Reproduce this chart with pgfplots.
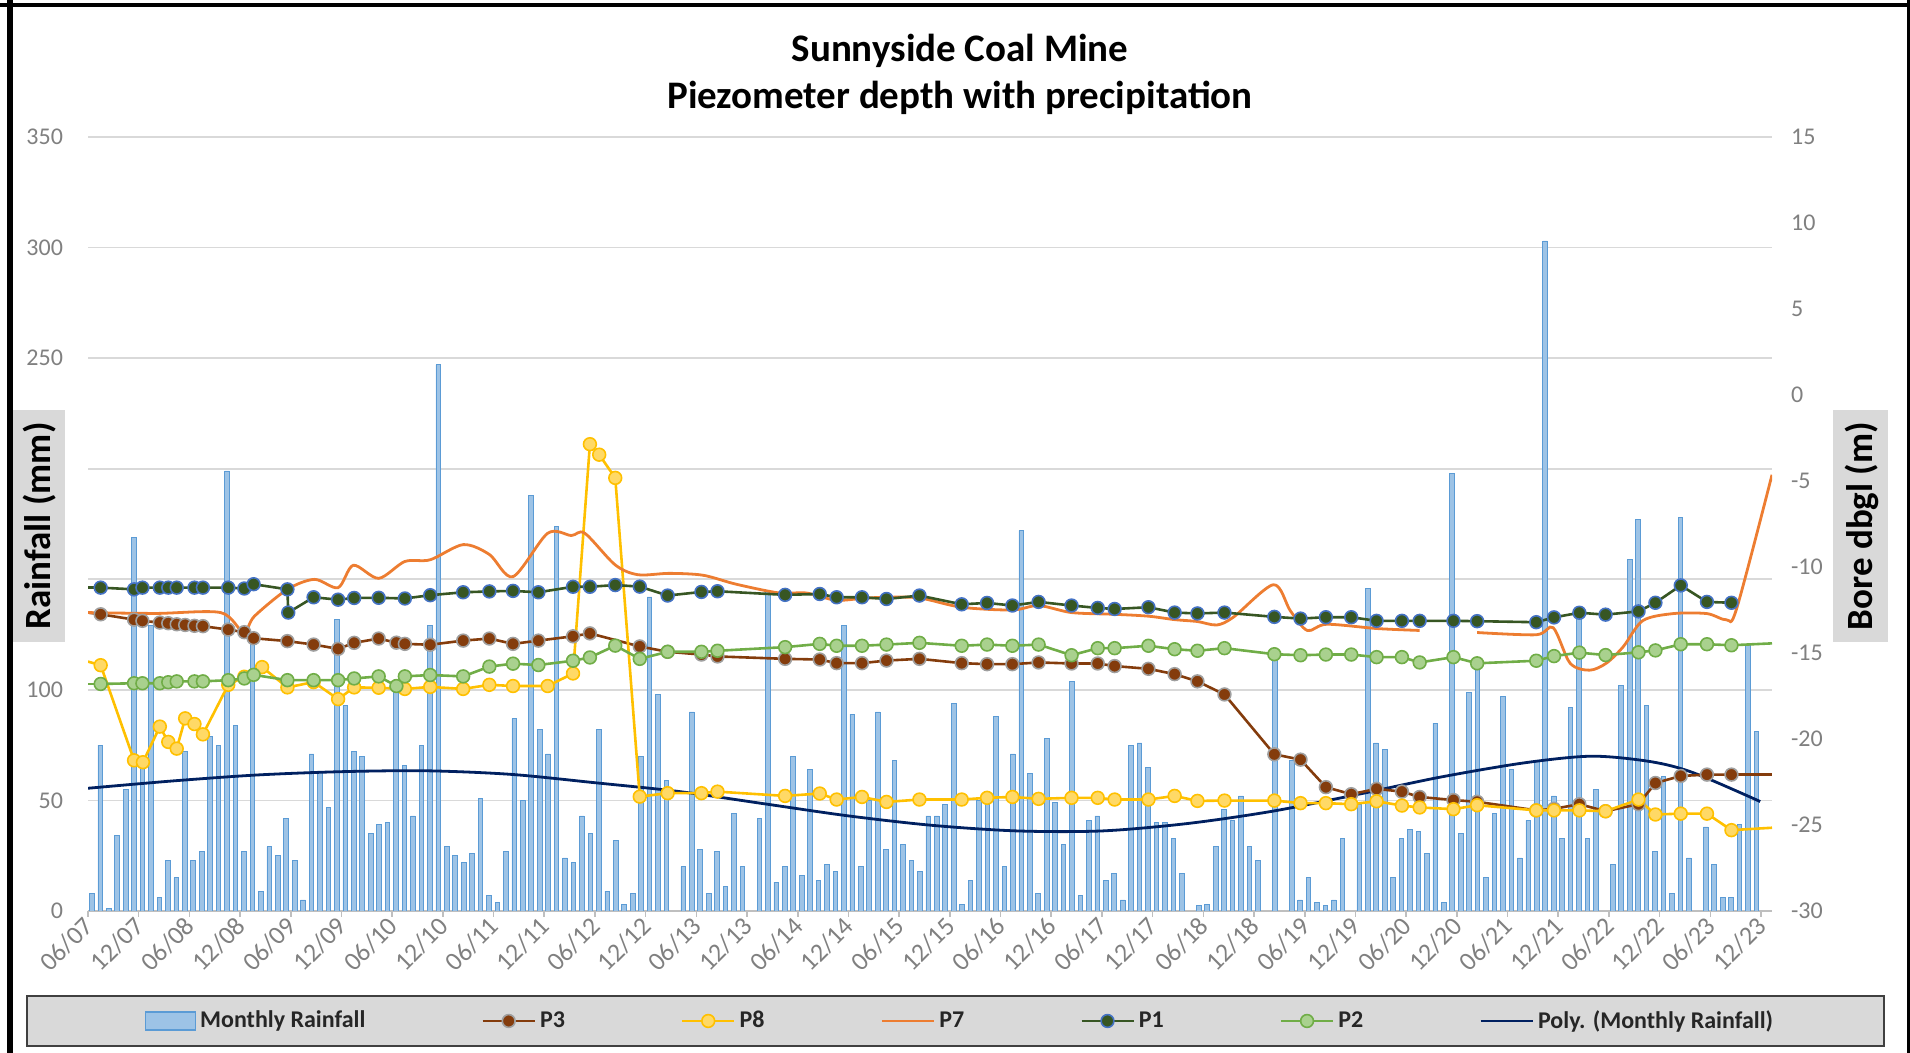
\documentclass[border=0pt]{standalone}
\usepackage{fontspec}
\setmainfont{Carlito}
\usepackage{pgfplots}
\usepackage{pgfplotstable}
\pgfplotsset{compat=1.18}

\definecolor{barfill}{HTML}{9DC3E6}
\definecolor{barline}{HTML}{5B9BD5}
\definecolor{pthree}{HTML}{843C0C}
\definecolor{peight}{HTML}{FFC000}
\definecolor{peightfill}{HTML}{FFD966}
\definecolor{pseven}{HTML}{ED7D31}
\definecolor{pone}{HTML}{375623}
\definecolor{ponedge}{HTML}{4472C4}
\definecolor{ptwo}{HTML}{70AD47}
\definecolor{ptwofill}{HTML}{A9D18E}
\definecolor{polyc}{HTML}{002060}
\definecolor{gridc}{HTML}{D9D9D9}
\definecolor{axisc}{HTML}{BFBFBF}
\definecolor{tickc}{HTML}{808080}
\definecolor{boxc}{HTML}{D9D9D9}

% monthly rainfall, m = months since 06/2007 (empty months left out)
\pgfplotstableread[row sep=\\]{
m mm\\
0 8\\ 1 75\\ 2 1\\ 3 34\\ 4 55\\ 5 169\\ 6 65\\ 7 129\\ 8 6\\ 9 23\\ 10 15\\ 11 72\\
12 23\\ 13 27\\ 14 79\\ 15 75\\ 16 199\\ 17 84\\ 18 27\\ 19 122\\ 20 9\\ 21 29\\ 22 25\\ 23 42\\
24 23\\ 25 5\\ 26 71\\ 27 63\\ 28 47\\ 29 132\\ 30 93\\ 31 72\\ 32 70\\ 33 35\\ 34 39\\ 35 40\\
36 100\\ 37 66\\ 38 43\\ 39 75\\ 40 129\\ 41 247\\ 42 29\\ 43 25\\ 44 22\\ 45 26\\ 46 51\\ 47 7\\
48 4\\ 49 27\\ 50 87\\ 51 50\\ 52 188\\ 53 82\\ 54 71\\ 55 174\\ 56 24\\ 57 22\\ 58 43\\ 59 35\\
60 82\\ 61 9\\ 62 32\\ 63 3\\ 64 8\\ 65 70\\ 66 142\\ 67 98\\ 68 59\\ 70 20\\ 71 90\\
72 28\\ 73 8\\ 74 27\\ 75 11\\ 76 44\\ 77 20\\ 79 42\\ 80 145\\ 81 13\\ 82 20\\ 83 70\\
84 16\\ 85 64\\ 86 14\\ 87 21\\ 88 18\\ 89 129\\ 90 89\\ 91 20\\ 92 50\\ 93 90\\ 94 28\\ 95 68\\
96 30\\ 97 23\\ 98 18\\ 99 43\\ 100 43\\ 101 48\\ 102 94\\ 103 3\\ 104 14\\ 105 50\\ 106 48\\ 107 88\\
108 20\\ 109 71\\ 110 172\\ 111 62\\ 112 8\\ 113 78\\ 114 49\\ 115 30\\ 116 104\\ 117 7\\ 118 41\\ 119 43\\
120 14\\ 121 17\\ 122 5\\ 123 75\\ 124 76\\ 125 65\\ 126 40\\ 127 40\\ 128 33\\ 129 17\\ 131 2.5\\
132 3\\ 133 29\\ 134 46\\ 135 41\\ 136 52\\ 137 29\\ 138 23\\ 140 115\\ 142 68\\ 143 5\\
144 15\\ 145 4\\ 146 2.5\\ 147 5\\ 148 33\\ 150 48\\ 151 146\\ 152 76\\ 153 73\\ 154 15\\ 155 33\\
156 37\\ 157 36\\ 158 26\\ 159 85\\ 160 4\\ 161 198\\ 162 35\\ 163 99\\ 164 112\\ 165 15\\ 166 44\\ 167 97\\
168 64\\ 169 24\\ 170 41\\ 171 68\\ 172 303\\ 173 52\\ 174 33\\ 175 92\\ 176 134\\ 177 33\\ 178 55\\
180 21\\ 181 102\\ 182 159\\ 183 177\\ 184 93\\ 185 27\\ 186 61\\ 187 8\\ 188 178\\ 189 24\\ 191 38\\
192 21\\ 193 6\\ 194 6\\ 195 39\\ 196 120\\ 197 81\\
}\rain

\pgfplotsset{
  pthreestyle/.style={color=pthree, line width=1.3pt, mark=*, mark size=3.2pt,
    mark options={fill=pthree, draw=gray!75, line width=0.8pt}},
  peightstyle/.style={color=peight, line width=1.3pt, mark=*, mark size=3.2pt,
    mark options={fill=peightfill, draw=peight, line width=0.8pt}},
  ponestyle/.style={color=pone, line width=1.3pt, mark=*, mark size=3.2pt,
    mark options={fill=pone, draw=ponedge, line width=0.8pt}},
  ptwostyle/.style={color=ptwo, line width=1.3pt, mark=*, mark size=3.2pt,
    mark options={fill=ptwofill, draw=ptwo, line width=0.8pt}},
  psevenstyle/.style={color=pseven, line width=1.4pt, smooth, no markers},
}

\begin{document}
\begin{tikzpicture}
\path[use as bounding box] (0,0) rectangle (955pt,526.5pt);

% frame and legend panel
\draw[black, line width=3pt] (5pt,0) -- (5pt,526.5pt);
\draw[black, line width=2.2pt] (0,524pt) -- (955pt,524pt);
\draw[black, line width=1.5pt] (954pt,0) -- (954pt,526.5pt);
\draw[fill=boxc, draw=black!75, line width=1.2pt] (13.5pt,3.5pt) rectangle (942pt,28.5pt);

\node[font=\bfseries\fontsize{19.5}{23}\selectfont] at (480pt,501pt) {Sunnyside Coal Mine};
\node[font=\bfseries\fontsize{19.5}{23}\selectfont] at (480pt,477.5pt) {Piezometer depth with precipitation};

\begin{axis}[
  at={(44pt,71pt)}, anchor=south west,
  scale only axis, width=842pt, height=387pt,
  xmin=0, xmax=199.3, ymin=0, ymax=350,
  axis x line*=bottom, axis y line*=left,
  x axis line style={draw=axisc, line width=0.8pt},
  y axis line style={draw=none},
  xtick={0,6,...,198},
  xticklabels={06/07,12/07,06/08,12/08,06/09,12/09,06/10,12/10,06/11,12/11,06/12,12/12,
    06/13,12/13,06/14,12/14,06/15,12/15,06/16,12/16,06/17,12/17,06/18,12/18,
    06/19,12/19,06/20,12/20,06/21,12/21,06/22,12/22,06/23,12/23},
  xtick style={draw=axisc, line width=0.8pt},
  tick align=outside, major tick length=3pt,
  ytick={0,50,...,350},
  yticklabels={0,50,100,150,200,250,300,350},
  ytick style={draw=none},
  ymajorgrids, grid style={gridc, line width=0.8pt},
  ticklabel style={font=\fontsize{12}{14}\selectfont, text=tickc},
  xticklabel style={font=\fontsize{13}{15}\selectfont, rotate=45, anchor=east, xshift=2pt, yshift=-2pt},
  yticklabel style={anchor=east, xshift=-6pt},
]
\addplot[ybar, bar width=0.55, bar shift=0.45, fill=barfill, draw=barline, line width=0.4pt]
  table[x=m, y=mm] {\rain};
\addplot[polyc, line width=1.4pt, smooth, no markers] coordinates {
  (0,55.5) (10,58.8) (20,61.5) (30,63.0) (40,63.4) (50,61.8) (60,58.0) (70,54.0)
  (80,48.5) (90,43.0) (100,38.7) (110,36.2) (120,36.2) (130,39.5) (140,45.0)
  (150,52.5) (160,60.5) (170,67.0) (178,70.0) (185,67.5) (190,62.5) (197.9,49.5)};
\end{axis}

\begin{axis}[
  at={(44pt,71pt)}, anchor=south west,
  scale only axis, width=842pt, height=387pt,
  xmin=0, xmax=199.3, ymin=-30, ymax=15,
  axis x line=none, axis y line*=right,
  y axis line style={draw=none}, ytick style={draw=none},
  ytick={-30,-25,...,15},
  yticklabels={-30,-25,-20,-15,-10,-5,0,5,10,15},
  yticklabel style={font=\fontsize{12}{14}\selectfont, text=tickc, anchor=west, xshift=6pt},
  legend columns=7,
  legend style={at={(0.5184,-0.1421)}, anchor=center, draw=none, fill=none,
    font=\bfseries\fontsize{12}{14}\selectfont, text=black!85,
    /tikz/every even column/.append style={column sep=56pt}},
  legend image code/.code={\draw[mark repeat=2,mark phase=2,#1]
    plot coordinates {(0pt,0pt) (13pt,0pt) (26pt,0pt)};},
]
\addlegendimage{legend image code/.code={\draw[fill=barfill,draw=barline,line width=0.6pt]
  (0pt,-4.5pt) rectangle (25pt,4.5pt);}}
\addlegendentry{Monthly Rainfall}

% P3
\addplot[pthree, line width=1.3pt, forget plot] coordinates {(0,-12.65) (1.5,-12.75)};
\addplot[pthree, line width=1.3pt, forget plot] coordinates {(194.5,-22.07) (199.3,-22.07)};
\addplot[pthreestyle] coordinates {
  (1.5,-12.75) (5.45,-13.06) (6.44,-13.13) (8.5,-13.23) (9.5,-13.27) (10.5,-13.33)
  (11.5,-13.37) (12.6,-13.42) (13.6,-13.44) (16.6,-13.64) (18.5,-13.79) (19.6,-14.14)
  (23.6,-14.31) (26.7,-14.51) (29.6,-14.76) (31.5,-14.41) (34.4,-14.16) (36.5,-14.4)
  (37.5,-14.47) (40.5,-14.52) (44.4,-14.28) (47.5,-14.16) (50.3,-14.47) (53.3,-14.28)
  (57.4,-14.03) (59.4,-13.86) (65.3,-14.62) (68.6,-14.93) (72.6,-15.09) (74.5,-15.2)
  (82.5,-15.34) (86.6,-15.38) (88.6,-15.59) (91.6,-15.59) (94.5,-15.44) (98.4,-15.34)
  (103.4,-15.59) (106.4,-15.65) (109.4,-15.65) (112.5,-15.55) (116.4,-15.61) (119.5,-15.61)
  (121.5,-15.76) (125.5,-15.92) (128.6,-16.23) (131.3,-16.65) (134.5,-17.41) (140.4,-20.89)
  (143.5,-21.2) (146.5,-22.8) (149.5,-23.21) (152.5,-22.9) (155.5,-23.06) (157.6,-23.37)
  (161.6,-23.55) (164.4,-23.65) (171.4,-24.15) (173.5,-24.06) (176.5,-23.79) (179.6,-24.2)
  (183.5,-23.79) (185.5,-22.56) (188.5,-22.15) (191.6,-22.07) (194.5,-22.07)};
\addlegendentry{P3}

% P8
\addplot[peight, line width=1.3pt, forget plot] coordinates {(0,-15.5) (1.5,-15.71)};
\addplot[peight, line width=1.3pt, forget plot] coordinates {(194.5,-25.3) (199.3,-25.16)};
\addplot[peightstyle] coordinates {
  (1.5,-15.71) (5.45,-21.24) (6.5,-21.35) (8.5,-19.28) (9.5,-20.17) (10.5,-20.56)
  (11.5,-18.8) (12.6,-19.13) (13.6,-19.73) (16.6,-16.85) (18.5,-16.38) (20.6,-15.82)
  (23.6,-17.0) (26.7,-16.69) (29.6,-17.68) (31.5,-17.0) (34.4,-17.02) (37.5,-17.09)
  (40.5,-16.97) (44.4,-17.09) (47.5,-16.85) (50.3,-16.92) (54.4,-16.92) (57.4,-16.19)
  (59.4,-2.86) (60.5,-3.47) (62.4,-4.82) (65.3,-23.35) (68.6,-23.15) (72.6,-23.15)
  (74.5,-23.06) (82.5,-23.31) (86.6,-23.17) (88.6,-23.52) (91.6,-23.37) (94.5,-23.66)
  (98.4,-23.52) (103.4,-23.52) (106.4,-23.42) (109.4,-23.37) (112.5,-23.48) (116.4,-23.42)
  (119.5,-23.42) (121.5,-23.52) (125.5,-23.52) (128.6,-23.31) (131.3,-23.6) (134.5,-23.58)
  (140.4,-23.58) (143.5,-23.73) (146.5,-23.73) (149.5,-23.79) (152.5,-23.62) (155.5,-23.87)
  (157.6,-23.98) (161.6,-24.08) (164.4,-23.85) (171.4,-24.15) (173.5,-24.15) (176.5,-24.15)
  (179.6,-24.2) (183.5,-23.52) (185.5,-24.39) (188.5,-24.34) (191.6,-24.34) (194.5,-25.3)};
\addlegendentry{P8}

% P7
\addplot[psevenstyle] coordinates {
  (0,-12.65) (8,-12.7) (15.7,-12.65) (18.4,-13.79) (19.7,-12.86) (23.6,-11.3)
  (26.8,-10.72) (29.6,-11.2) (31.4,-9.9) (34.4,-10.66) (37.5,-9.68) (40.5,-9.58)
  (44.4,-8.7) (47.5,-9.27) (50.3,-10.56) (54.4,-8.04) (57.2,-8.17) (58.8,-8.04)
  (62.4,-9.88) (65.1,-10.45) (68.8,-10.37) (72.8,-10.48) (76.7,-11.0) (81.8,-11.51)
  (85,-11.51) (88.5,-11.93) (91.7,-11.82) (94.4,-11.76) (98.4,-11.8) (103.4,-12.34)
  (109.4,-12.5) (112.5,-12.24) (116.4,-12.65) (121.5,-12.75) (125.5,-12.86) (128.6,-13.06)
  (131.3,-13.17) (133.6,-13.37) (135.6,-12.9) (140.3,-11.03) (142.3,-12.55) (144.3,-13.69)
  (146.6,-13.33) (152.6,-13.58) (157.6,-13.69)};
\addlegendentry{P7}
\addplot[psevenstyle, forget plot] coordinates {
  (164.4,-13.81) (171.4,-13.94) (173.4,-13.53) (175.4,-15.59) (177.7,-16.0) (179.7,-15.59)
  (181.7,-14.63) (184,-13.12) (187.6,-12.71) (191.6,-12.71) (193.9,-13.07) (195.1,-12.44)
  (199.3,-4.64)};

% P1
\addplot[pone, line width=1.3pt, forget plot] coordinates {(0,-11.2) (1.5,-11.2)};
\addplot[ponestyle] coordinates {
  (1.5,-11.2) (5.45,-11.3) (6.44,-11.2) (8.5,-11.2) (9.5,-11.2) (10.5,-11.2)
  (12.6,-11.2) (13.6,-11.2) (16.6,-11.2) (18.5,-11.25) (19.6,-11.0) (23.6,-11.3)
  (23.7,-12.65) (26.7,-11.76) (29.6,-11.9) (31.5,-11.8) (34.4,-11.79) (37.5,-11.83)
  (40.5,-11.64) (44.4,-11.47) (47.5,-11.42) (50.3,-11.39) (53.3,-11.47) (57.4,-11.15)
  (59.4,-11.15) (62.4,-11.05) (65.3,-11.14) (68.6,-11.66) (72.6,-11.45) (74.5,-11.41)
  (82.5,-11.62) (86.6,-11.57) (88.6,-11.76) (91.6,-11.76) (94.5,-11.86) (98.4,-11.66)
  (103.4,-12.17) (106.4,-12.09) (109.4,-12.24) (112.5,-12.03) (116.4,-12.24) (119.5,-12.38)
  (121.5,-12.44) (125.5,-12.34) (128.6,-12.65) (131.3,-12.7) (134.5,-12.65) (140.4,-12.9)
  (143.5,-13.0) (146.5,-12.92) (149.5,-12.92) (152.5,-13.13) (155.5,-13.13) (157.6,-13.13)
  (161.6,-13.13) (164.4,-13.15) (171.4,-13.21) (173.5,-12.93) (176.5,-12.66) (179.6,-12.77)
  (183.5,-12.58) (185.5,-12.08) (188.5,-11.07) (191.6,-12.03) (194.5,-12.08)};
\addlegendentry{P1}

% P2
\addplot[ptwo, line width=1.3pt, forget plot] coordinates {(0,-16.8) (1.5,-16.8)};
\addplot[ptwo, line width=1.3pt, forget plot] coordinates {(194.5,-14.55) (199.3,-14.44)};
\addplot[ptwostyle] coordinates {
  (1.5,-16.8) (5.45,-16.76) (6.44,-16.76) (8.5,-16.76) (9.5,-16.7) (10.5,-16.65)
  (12.6,-16.65) (13.6,-16.65) (16.6,-16.58) (18.5,-16.48) (19.6,-16.27) (23.6,-16.58)
  (26.7,-16.58) (29.6,-16.58) (31.5,-16.48) (34.4,-16.36) (36.5,-16.92) (37.5,-16.36)
  (40.5,-16.28) (44.4,-16.36) (47.5,-15.79) (50.3,-15.62) (53.3,-15.7) (57.4,-15.45)
  (59.4,-15.26) (62.4,-14.57) (65.3,-15.34) (68.6,-14.93) (72.6,-14.93) (74.5,-14.87)
  (82.5,-14.66) (86.6,-14.47) (88.6,-14.58) (91.6,-14.58) (94.5,-14.51) (98.4,-14.41)
  (103.4,-14.58) (106.4,-14.51) (109.4,-14.58) (112.5,-14.51) (116.4,-15.13) (119.5,-14.72)
  (121.5,-14.72) (125.5,-14.58) (128.6,-14.78) (131.3,-14.87) (134.5,-14.72) (140.4,-15.07)
  (143.5,-15.13) (146.5,-15.09) (149.5,-15.09) (152.5,-15.24) (155.5,-15.24) (157.6,-15.55)
  (161.6,-15.24) (164.4,-15.6) (171.4,-15.45) (173.5,-15.18) (176.5,-14.98) (179.6,-15.12)
  (183.5,-14.96) (185.5,-14.85) (188.5,-14.49) (191.6,-14.49) (194.5,-14.55)};
\addlegendentry{P2}

\addlegendimage{polyc, line width=1.4pt, no markers}
\addlegendentry{Poly. (Monthly Rainfall)}
\end{axis}

% axis titles in grey panels
\fill[boxc] (6.5pt,205.5pt) rectangle (32.5pt,321.5pt);
\node[rotate=90, font=\bfseries\fontsize{18.5}{22}\selectfont] at (20pt,263.5pt) {Rainfall (mm)};
\fill[boxc] (916.5pt,205.5pt) rectangle (944pt,321.5pt);
\node[rotate=90, font=\bfseries\fontsize{18.5}{22}\selectfont] at (931pt,263.5pt) {Bore dbgl (m)};
\end{tikzpicture}
\end{document}
